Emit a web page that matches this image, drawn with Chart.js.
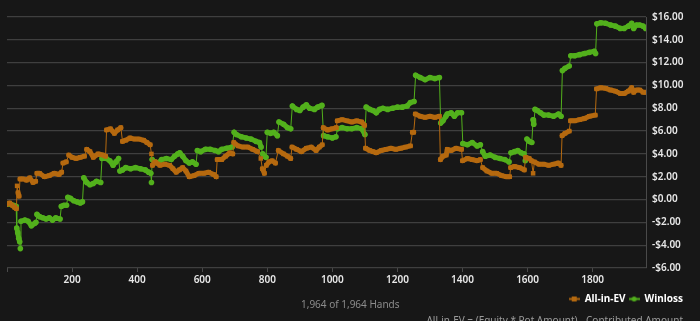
<!DOCTYPE html>
<html lang="en">
<head>
    <meta charset="UTF-8">
    <title>All-in-EV vs Winloss</title>
    <script src="https://cdn.jsdelivr.net/npm/chart.js"></script>
    <style>
        body { margin: 0; background: #171717; overflow: hidden; }
        .wrap { position: relative; width: 700px; height: 321px; }
        .hands { position: absolute; left: 301px; top: 297px; font: 10px "Noto Sans", sans-serif; color: #8c8c8c; }
        .note { position: absolute; right: 17px; top: 313px; font: 10px "Noto Sans", sans-serif; color: #9a9a9a; white-space: nowrap; }
    </style>
</head>
<body>
<div class="wrap">
    <canvas id="grafico" width="700" height="321"></canvas>
    <div class="hands">1,964 of 1,964 Hands</div>
    <div class="note">All-in-EV = (Equity * Pot Amount) - Contributed Amount</div>
</div>

<script>
    // dados (mao, valor em $)
    var evHands = [0, 8, 16, 24, 29, 31, 34, 37, 40, 50, 60, 70, 80, 88, 92, 100, 115, 130, 145, 160, 168, 172, 182, 190, 200, 212, 225, 238, 245, 255, 265, 280, 295, 303, 306, 318, 330, 340, 350, 355, 365, 378, 392, 406, 420, 430, 440, 444, 447, 456, 470, 485, 500, 510, 520, 530, 540, 550, 560, 575, 590, 605, 620, 635, 643, 646, 660, 672, 685, 694, 697, 710, 725, 740, 755, 770, 780, 785, 791, 797, 805, 815, 825, 834, 850, 862, 872, 876, 890, 905, 920, 935, 950, 960, 969, 972, 985, 1000, 1012, 1015, 1030, 1045, 1060, 1075, 1090, 1099, 1102, 1115, 1125, 1135, 1150, 1165, 1180, 1195, 1210, 1225, 1240, 1246, 1250, 1255, 1270, 1285, 1300, 1315, 1329, 1332, 1340, 1350, 1353, 1365, 1380, 1397, 1400, 1415, 1430, 1445, 1455, 1462, 1475, 1490, 1505, 1520, 1535, 1545, 1548, 1560, 1575, 1590, 1594, 1605, 1612, 1617, 1621, 1635, 1650, 1665, 1680, 1695, 1703, 1706, 1715, 1728, 1732, 1745, 1760, 1775, 1790, 1808, 1812, 1825, 1840, 1855, 1870, 1885, 1897, 1910, 1920, 1926, 1935, 1945, 1955, 1963];
    var evValues = [-0.4, -0.3, -0.5, -0.7, -0.8, 1.2, 0.6, 0.3, 1.8, 1.8, 1.7, 1.9, 1.5, 1.6, 2.3, 2.3, 2.0, 2.1, 2.3, 2.2, 2.4, 3.2, 3.3, 3.9, 3.7, 3.6, 3.7, 3.8, 4.4, 4.2, 3.7, 4.0, 3.9, 3.8, 6.1, 6.2, 5.8, 6.1, 6.3, 5.1, 5.2, 5.4, 5.3, 5.3, 5.2, 5.0, 4.8, 4.0, 3.0, 3.3, 3.0, 3.1, 3.0, 2.7, 2.4, 2.6, 2.8, 2.5, 2.0, 2.1, 2.3, 2.3, 2.4, 2.2, 2.0, 3.5, 3.5, 3.8, 4.1, 4.0, 5.0, 4.7, 4.6, 4.6, 4.4, 4.2, 3.6, 2.7, 2.3, 3.0, 3.3, 3.4, 3.2, 4.3, 4.0, 3.8, 3.6, 4.6, 4.4, 4.2, 4.5, 4.6, 4.3, 4.6, 4.8, 6.3, 6.1, 6.2, 6.3, 6.9, 7.0, 6.9, 6.8, 6.9, 6.8, 6.5, 4.5, 4.3, 4.2, 4.1, 4.3, 4.4, 4.5, 4.4, 4.5, 4.6, 4.7, 5.9, 5.9, 7.5, 7.3, 7.2, 7.3, 7.2, 7.3, 3.5, 3.8, 3.9, 4.4, 4.3, 4.5, 4.4, 3.4, 3.6, 3.5, 3.4, 3.5, 2.8, 2.5, 2.3, 2.3, 2.1, 2.0, 2.0, 2.8, 2.9, 2.8, 2.6, 3.7, 3.6, 3.4, 2.3, 3.3, 3.1, 3.1, 3.0, 3.1, 3.2, 3.0, 5.6, 5.8, 6.0, 6.9, 6.9, 7.0, 7.1, 7.3, 7.4, 9.7, 9.8, 9.75, 9.6, 9.5, 9.3, 9.3, 9.5, 9.8, 9.4, 9.6, 9.6, 9.4, 9.4];

    var wlHands = [0, 10, 20, 28, 30, 33, 36, 39, 41, 43, 55, 65, 75, 85, 89, 92, 100, 110, 120, 130, 140, 150, 163, 167, 175, 183, 187, 195, 205, 215, 225, 232, 236, 245, 255, 265, 275, 288, 292, 305, 316, 326, 335, 343, 347, 355, 365, 380, 395, 410, 425, 435, 442, 444, 446, 455, 465, 475, 490, 505, 515, 525, 531, 540, 550, 560, 570, 581, 585, 595, 610, 625, 640, 650, 660, 675, 692, 698, 705, 720, 735, 750, 765, 776, 781, 786, 791, 796, 800, 810, 820, 831, 836, 850, 862, 872, 877, 890, 900, 910, 920, 930, 945, 955, 968, 973, 985, 1000, 1011, 1016, 1030, 1045, 1060, 1075, 1090, 1100, 1104, 1115, 1125, 1135, 1145, 1155, 1170, 1185, 1200, 1215, 1230, 1240, 1251, 1256, 1270, 1285, 1300, 1315, 1329, 1333, 1340, 1349, 1353, 1365, 1375, 1385, 1397, 1401, 1415, 1430, 1445, 1455, 1462, 1470, 1485, 1500, 1515, 1530, 1543, 1549, 1560, 1570, 1580, 1589, 1593, 1598, 1605, 1613, 1617, 1619, 1623, 1630, 1640, 1650, 1665, 1680, 1695, 1703, 1707, 1715, 1728, 1733, 1745, 1760, 1775, 1790, 1805, 1809, 1813, 1825, 1840, 1855, 1870, 1885, 1897, 1910, 1920, 1926, 1935, 1945, 1955, 1963];
    var wlValues = [-0.4, -0.4, -0.5, -0.6, -2.5, -2.9, -3.4, -3.7, -4.3, -1.9, -1.8, -1.9, -2.3, -2.1, -2.0, -1.3, -1.5, -1.6, -1.7, -1.6, -1.8, -1.6, -1.7, -0.6, -0.5, -0.5, 0.2, 0.1, -0.1, -0.2, -0.3, -0.2, 1.9, 1.5, 1.3, 1.4, 1.6, 1.5, 3.6, 3.6, 3.4, 3.0, 3.3, 3.6, 2.5, 2.6, 2.8, 2.7, 2.8, 2.7, 2.6, 2.4, 2.3, 1.5, 3.5, 3.3, 3.2, 3.5, 3.6, 3.5, 3.8, 4.0, 4.1, 3.8, 3.4, 3.2, 3.3, 3.1, 4.3, 4.2, 4.4, 4.4, 4.3, 4.2, 4.4, 4.5, 4.6, 5.9, 5.7, 5.5, 5.4, 5.3, 5.1, 5.0, 4.6, 4.0, 3.8, 3.7, 5.9, 5.8, 5.9, 5.6, 6.8, 6.6, 6.3, 6.2, 8.2, 7.9, 7.8, 8.1, 8.3, 8.0, 7.9, 8.1, 8.25, 5.6, 5.5, 5.4, 5.5, 6.2, 6.3, 6.2, 6.2, 6.3, 6.2, 5.7, 8.1, 7.9, 7.8, 7.6, 7.9, 8.0, 7.9, 8.0, 8.1, 8.1, 8.2, 8.5, 8.6, 10.9, 10.7, 10.5, 10.7, 10.6, 10.7, 6.7, 6.9, 7.3, 7.5, 7.6, 7.3, 7.6, 7.6, 4.9, 4.8, 5.0, 4.7, 4.8, 4.2, 3.8, 3.9, 3.7, 3.6, 3.5, 3.3, 4.1, 4.2, 4.3, 4.1, 4.0, 3.4, 5.3, 5.1, 5.0, 7.0, 6.6, 7.9, 7.8, 7.6, 7.4, 7.4, 7.3, 7.5, 7.3, 11.3, 11.5, 11.7, 12.6, 12.6, 12.7, 12.8, 12.9, 13.0, 12.8, 15.4, 15.5, 15.45, 15.3, 15.2, 15.0, 15.0, 15.2, 15.45, 15.0, 15.3, 15.3, 15.2, 15.0];

    var handTicks = [0, 200, 400, 600, 800, 1000, 1200, 1400, 1600, 1800];
    var totalHands = 1964;
    var yMin = -6;
    var yMax = 16;

    var corEV = '#b5690f';
    var corWL = '#52b01c';

    function juntar(maos, valores) {
        var pontos = [];
        for (var i = 0; i < maos.length; i++) {
            pontos.push({ x: maos[i], y: valores[i] });
        }
        return pontos;
    }

    // saltos grandes ficam finos, o resto grosso (pontos densos no original)
    function larguraSegmento(ctx) {
        var dy = Math.abs(ctx.p1.parsed.y - ctx.p0.parsed.y);
        return dy > 0.55 ? 1 : 5;
    }

    // icone da legenda: linha curta com o marcador no meio
    function iconeLegenda(cor, quadrado) {
        var c = document.createElement('canvas');
        c.width = 11;
        c.height = 7;
        var ctx = c.getContext('2d');
        ctx.strokeStyle = cor;
        ctx.lineWidth = 2;
        ctx.beginPath();
        ctx.moveTo(0, 3.5);
        ctx.lineTo(11, 3.5);
        ctx.stroke();
        ctx.fillStyle = cor;
        if (quadrado) {
            ctx.fillRect(3, 1, 5, 5);
        } else {
            ctx.beginPath();
            ctx.arc(5.5, 3.5, 2.5, 0, Math.PI * 2);
            ctx.fill();
        }
        return c;
    }

    var icones = [iconeLegenda(corEV, true), iconeLegenda(corWL, false)];

    var config = {
        type: 'line',
        data: {
            datasets: [{
                label: 'All-in-EV',
                data: juntar(evHands, evValues),
                borderColor: corEV,
                backgroundColor: corEV,
                borderWidth: 1,
                segment: { borderWidth: larguraSegmento },
                borderJoinStyle: 'round',
                borderCapStyle: 'round',
                pointStyle: 'rect',
                pointRadius: 3.2,
                pointBorderWidth: 0,
                tension: 0
            }, {
                label: 'Winloss',
                data: juntar(wlHands, wlValues),
                borderColor: corWL,
                backgroundColor: corWL,
                borderWidth: 1,
                segment: { borderWidth: larguraSegmento },
                borderJoinStyle: 'round',
                borderCapStyle: 'round',
                pointStyle: 'circle',
                pointRadius: 2.8,
                pointBorderWidth: 0,
                tension: 0
            }]
        },
        options: {
            responsive: false,
            animation: false,
            events: [],
            layout: { padding: { left: 7, right: 14, top: 17, bottom: 7 } },
            scales: {
                x: {
                    type: 'linear',
                    min: 0,
                    max: totalHands,
                    afterBuildTicks: function (scale) {
                        scale.ticks = handTicks.map(function (v) { return { value: v }; });
                    },
                    afterFit: function (scale) { scale.height = 23; },
                    grid: { drawOnChartArea: false, color: '#4a4a4a', tickLength: 4 },
                    border: { display: false },
                    ticks: {
                        padding: 2,
                        color: '#e8e8e8',
                        font: { family: 'Noto Sans', size: 10, weight: '600' },
                        maxRotation: 0,
                        autoSkip: false,
                        callback: function (v) { return v === 0 ? '' : String(v); }
                    }
                },
                y: {
                    position: 'right',
                    min: yMin,
                    max: yMax,
                    afterFit: function (scale) { scale.width = 40; },
                    grid: { color: '#3f3f3f', drawTicks: false, lineWidth: 1.2 },
                    border: { display: true, color: '#4a4a4a' },
                    ticks: {
                        stepSize: 2,
                        padding: 6,
                        color: '#e8e8e8',
                        font: { family: 'Noto Sans', size: 10, weight: '600' },
                        callback: function (v) {
                            return (v < 0 ? '-$' : '$') + Math.abs(v).toFixed(2);
                        }
                    }
                }
            },
            plugins: {
                tooltip: { enabled: false },
                legend: {
                    position: 'bottom',
                    align: 'end',
                    labels: {
                        usePointStyle: true,
                        pointStyleWidth: 11,
                        padding: 3,
                        color: '#ffffff',
                        font: { family: 'Noto Sans', size: 10, weight: 'bold' },
                        generateLabels: function (chart) {
                            var itens = Chart.defaults.plugins.legend.labels.generateLabels(chart);
                            itens.forEach(function (it, i) { it.pointStyle = icones[i]; });
                            return itens;
                        }
                    }
                }
            }
        },
        plugins: [{
            id: 'fundo',
            beforeDraw: function (chart) {
                var ctx = chart.ctx;
                ctx.save();
                ctx.fillStyle = '#171717';
                ctx.fillRect(0, 0, chart.width, chart.height);
                ctx.restore();
            }
        }]
    };

    new Chart(document.getElementById('grafico'), config);
</script>
</body>
</html>
